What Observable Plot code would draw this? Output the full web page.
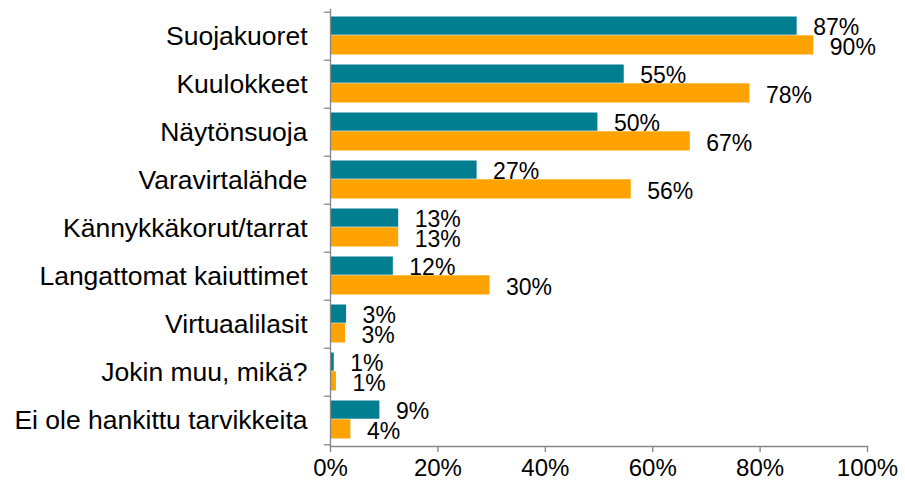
<!DOCTYPE html>
<html>
<head>
<meta charset="utf-8">
<script src="https://cdn.jsdelivr.net/npm/d3@7"></script>
<script src="https://cdn.jsdelivr.net/npm/@observablehq/plot@0.6"></script>
<style>
  html, body { margin: 0; padding: 0; background: #fff; }
  svg { font-family: "Liberation Sans", Arial, sans-serif; }
</style>
</head>
<body>
<div id="chart"></div>
<script>
const categories = [
  "Suojakuoret",
  "Kuulokkeet",
  "Näytönsuoja",
  "Varavirtalähde",
  "Kännykkäkorut/tarrat",
  "Langattomat kaiuttimet",
  "Virtuaalilasit",
  "Jokin muu, mikä?",
  "Ei ole hankittu tarvikkeita"
];
const seriesA = [86.9, 54.7, 49.8, 27.3, 12.7, 11.7, 3.0, 0.7, 9.2];
const seriesB = [90.0, 78.1, 67.0, 56.0, 12.7, 29.7, 2.8, 1.1, 3.8];
const labelsA = ["87%", "55%", "50%", "27%", "13%", "12%", "3%", "1%", "9%"];
const labelsB = ["90%", "78%", "67%", "56%", "13%", "30%", "3%", "1%", "4%"];
const xTicks = [0, 20, 40, 60, 80, 100];

const colorA = "#027E91";
const colorB = "#FFA302";
const axisColor = "#868686";

const width = 905, height = 483;
const marginTop = 9, marginBottom = 37, marginLeft = 330, marginRight = 38;
const bw = (height - marginTop - marginBottom) / categories.length;

const rowsA = categories.map((c, i) => ({cat: c, v: seriesA[i], label: labelsA[i]}));
const rowsB = categories.map((c, i) => ({cat: c, v: seriesB[i], label: labelsB[i]}));

const chart = Plot.plot({
  width, height, marginTop, marginBottom, marginLeft, marginRight,
  style: {fontFamily: "'Liberation Sans', Arial, sans-serif", background: "#fff"},
  x: {domain: [0, 100], axis: null, label: null},
  y: {domain: categories, padding: 0, axis: null, label: null},
  marks: [
    Plot.barX(rowsA, {x: "v", y: "cat", fill: colorA, insetTop: 4.5, insetBottom: bw / 2 + 1}),
    Plot.barX(rowsB, {x: "v", y: "cat", fill: colorB, insetTop: bw / 2 - 1, insetBottom: 5.5}),
    Plot.text(rowsA, {x: "v", y: "cat", text: "label", textAnchor: "start", dx: 16, dy: -8.5, fontSize: 23, fill: "#000"}),
    Plot.text(rowsB, {x: "v", y: "cat", text: "label", textAnchor: "start", dx: 16, dy: 11.5, fontSize: 23, fill: "#000"}),
    // axis lines
    Plot.frame({anchor: "left", stroke: axisColor, strokeWidth: 1.3}),
    Plot.frame({anchor: "bottom", stroke: axisColor, strokeWidth: 1.3}),
    // category boundary ticks on y axis
    Plot.ruleY(categories, {y: d => d, x1: 0, x2: 0, insetLeft: -6, dy: -bw / 2, stroke: axisColor, strokeWidth: 1.3}),
    Plot.ruleY(categories.slice(-1), {y: d => d, x1: 0, x2: 0, insetLeft: -6, dy: bw / 2, stroke: axisColor, strokeWidth: 1.3}),
    // x axis ticks and labels
    Plot.axisX(xTicks, {tickSize: 6, text: null, label: null, stroke: axisColor, strokeWidth: 1.3}),
    Plot.axisX(xTicks, {tickSize: 0, tickPadding: 12, label: null, tickFormat: d => d + "%", fontSize: 24, fill: "#000"}),
    // y axis labels
    Plot.axisY({tickSize: 0, tickPadding: 23, label: null, fontSize: 26.5, fill: "#000"})
  ]
});
document.getElementById("chart").appendChild(chart);
</script>
</body>
</html>
